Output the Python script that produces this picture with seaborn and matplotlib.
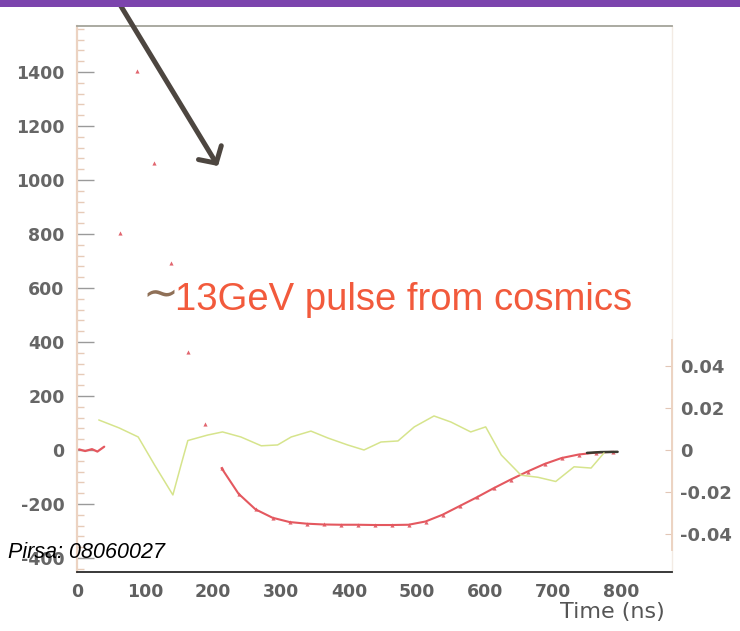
import numpy as np
import pandas as pd
import matplotlib
matplotlib.use("Agg")
import matplotlib.pyplot as plt
from matplotlib.patches import Rectangle
from matplotlib.ticker import MultipleLocator, FixedLocator
import seaborn as sns

# ---- data -------------------------------------------------------------
# ADC samples of the cosmic pulse, 25 ns sampling
sample_time = [12.5, 37.5, 62.5, 87.5, 112.5, 137.5, 162.5, 187.5,
               212.5, 237.5, 262.5, 287.5, 312.5, 337.5, 362.5, 387.5,
               412.5, 437.5, 462.5, 487.5, 512.5, 537.5, 562.5, 587.5,
               612.5, 637.5, 662.5, 687.5, 712.5, 737.5, 762.5, 787.5]
sample_adc = [-4, 8, 804, 1404, 1063, 693, 363, 96,
              -67, -162, -220, -251, -267, -273, -276, -277,
              -277, -278, -278, -277, -265, -240, -208, -176,
              -142, -110, -80, -52, -30, -17, -10, -7]

# pre-pulse baseline trace
baseline_time = [3, 12, 22, 30, 40]
baseline_adc = [2, -4, 3, -6, 12]

# fitted shape near the end of the window
fit_time = [750, 770, 795]
fit_adc = [-11, -8, -7]

# fit residuals (right-hand scale)
resid_time = [32, 62, 90, 114, 141, 153, 163, 192, 214, 241, 271, 295, 315,
              344, 369, 398, 422, 447, 472, 496, 525, 550, 579, 601, 624,
              653, 678, 704, 731, 756, 775]
resid_val = [0.0143, 0.0105, 0.0062, -0.0071, -0.0214, -0.0071, 0.0045,
             0.0071, 0.0086, 0.0062, 0.0020, 0.0024, 0.0062, 0.0090, 0.0057,
             0.0024, 0.0000, 0.0038, 0.0043, 0.0110, 0.0162, 0.0133, 0.0086,
             0.0110, -0.0024, -0.0120, -0.0130, -0.0150, -0.0080, -0.0086,
             -0.0014]

x_ticks = [0, 100, 200, 300, 400, 500, 600, 700, 800]
y_ticks = [-400, -200, 0, 200, 400, 600, 800, 1000, 1200, 1400]
r_ticks = [-0.04, -0.02, 0, 0.02, 0.04]
r_labels = ["-0.04", "-0.02", "0", "0.02", "0.04"]

pulse = pd.DataFrame({"t": sample_time, "adc": sample_adc})
tail = pulse[pulse["t"] >= 200]
base = pd.DataFrame({"t": baseline_time, "adc": baseline_adc})
fit = pd.DataFrame({"t": fit_time, "adc": fit_adc})
resid = pd.DataFrame({"t": resid_time, "r": resid_val})

# ---- figure -----------------------------------------------------------
sns.set_style("white")
plt.rcParams["font.family"] = ["DejaVu Sans"]
plt.rcParams["axes.unicode_minus"] = False

W, H = 740, 631
fig = plt.figure(figsize=(W / 100, H / 100), dpi=100)
ax = fig.add_axes([77 / W, 1 - 572 / H, (672 - 77) / W, (572 - 26) / H])
ax.set_facecolor("white")

RED_LINE = "#e4585f"
RED_PT = "#d8323f"
GREEN = "#d6e48c"

sns.lineplot(data=base, x="t", y="adc", ax=ax, color=RED_LINE, lw=1.6,
             estimator=None, sort=False)
sns.lineplot(data=tail, x="t", y="adc", ax=ax, color=RED_LINE, lw=1.5,
             estimator=None, sort=False)
sns.scatterplot(data=pulse[pulse["t"] > 50], x="t", y="adc", ax=ax,
                color=RED_PT, s=9, marker="^", linewidth=0, alpha=0.75)
sns.lineplot(data=fit, x="t", y="adc", ax=ax, color="#3a3a30", lw=1.8,
             estimator=None, sort=False)

ax.set_xlim(0, 875)
ax.set_ylim(-452, 1570)
ax.set_xlabel("")
ax.set_ylabel("")

ax.xaxis.set_major_locator(FixedLocator(x_ticks))
ax.yaxis.set_major_locator(FixedLocator(y_ticks))
ax.yaxis.set_minor_locator(MultipleLocator(40))
ax.tick_params(axis="y", which="major", direction="in", length=12,
               width=1, color="#9a9a9a", pad=9, labelsize=12.5,
               labelcolor="#666666", left=True)
ax.tick_params(axis="y", which="minor", direction="in", length=5,
               width=1, color="#e6cbb8", left=True)
ax.tick_params(axis="x", which="major", direction="in", length=0,
               pad=8, labelsize=12.5, labelcolor="#606060", bottom=True)
for lab in ax.get_yticklabels() + ax.get_xticklabels():
    lab.set_fontweight("bold")

ax.spines["left"].set_color("#ecd3c2")
ax.spines["left"].set_linewidth(1.6)
ax.spines["bottom"].set_color("#2a2a2a")
ax.spines["bottom"].set_linewidth(1.3)
ax.spines["top"].set_color("#a4a49a")
ax.spines["top"].set_linewidth(1.3)
ax.spines["right"].set_color("#f3ebe4")
ax.spines["right"].set_linewidth(1.0)

# residual scale on the right
ax2 = ax.twinx()
sns.lineplot(data=resid, x="t", y="r", ax=ax2, color=GREEN, lw=1.1,
             estimator=None, sort=False)
ax2.set_ylim(-0.0581, 0.2019)
ax2.set_ylabel("")
ax2.yaxis.set_major_locator(FixedLocator(r_ticks))
ax2.set_yticklabels(r_labels)
ax2.tick_params(axis="y", which="major", direction="in", length=5,
                color="#e2c6b6", pad=6, labelsize=13, labelcolor="#666666",
                right=True)
for lab in ax2.get_yticklabels():
    lab.set_fontweight("bold")
for side in ("left", "top", "bottom"):
    ax2.spines[side].set_visible(False)
ax2.spines["right"].set_bounds(-0.0476, 0.0524)
ax2.spines["right"].set_color("#ecd3c2")
ax2.spines["right"].set_linewidth(1.4)

# annotations
fig.text(134 / W, 1 - 305 / H, r"$\sim$", fontsize=31, color="#8f7057",
         ha="left", va="baseline")
fig.text(175 / W, 1 - 310 / H, "13GeV pulse from cosmics", fontsize=27.5,
         family="Liberation Sans", color="#f25a3c", ha="left", va="baseline")
fig.text(665 / W, 1 - 612 / H, "Time (ns)", fontsize=16, color="#555555",
         ha="right", va="center")
fig.text(8 / W, 1 - 552 / H, "Pirsa: 08060027", fontsize=15.5,
         family="Liberation Sans", style="italic", color="black",
         ha="left", va="center")

ax.annotate("", xy=(218, H - 166), xycoords="figure pixels",
            xytext=(116, H + 2), textcoords="figure pixels",
            arrowprops=dict(arrowstyle="->,head_length=0.55,head_width=0.6",
                            lw=3.6, color="#4d4640", mutation_scale=16,
                            shrinkA=0, shrinkB=0),
            annotation_clip=False)

fig.add_artist(Rectangle((0, 1 - 7 / H), 1, 7 / H, transform=fig.transFigure,
                         facecolor="#7c44ad", edgecolor="none", zorder=10))

fig.savefig("out.png", dpi=100, facecolor="white")
